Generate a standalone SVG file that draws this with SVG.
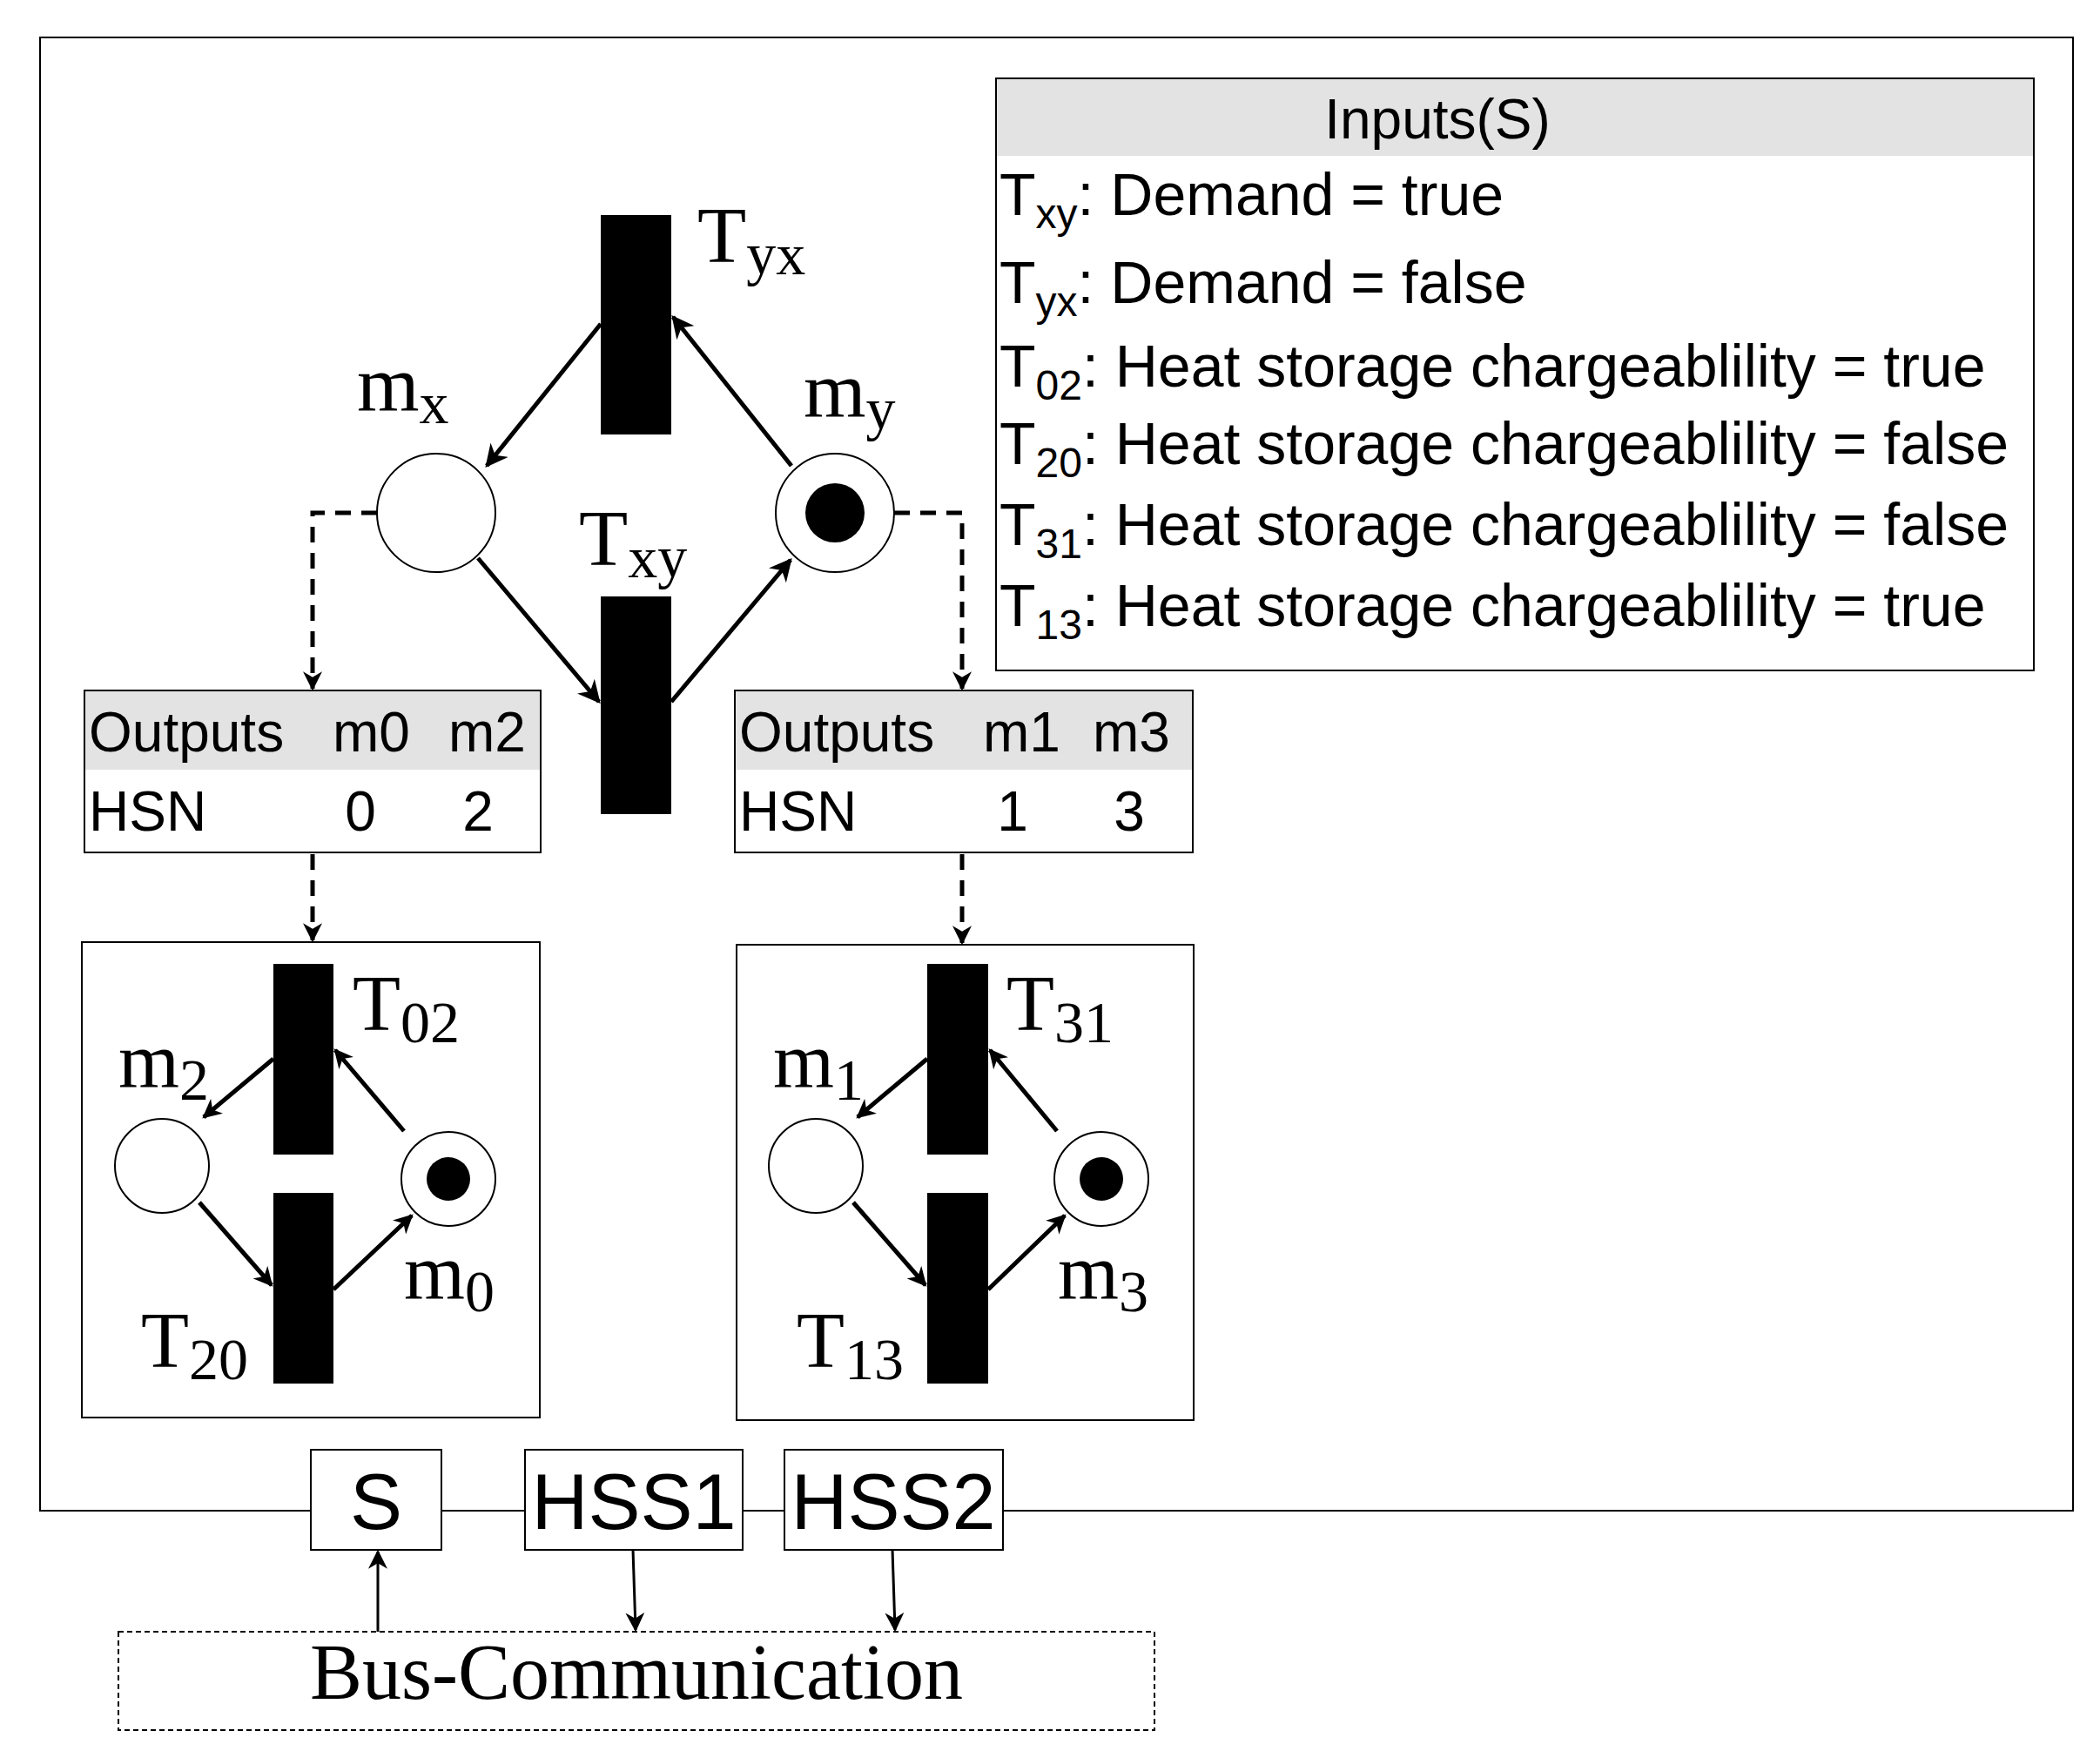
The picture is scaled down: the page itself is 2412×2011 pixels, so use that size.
<svg xmlns="http://www.w3.org/2000/svg" width="2412" height="2011" viewBox="0 0 2412 2011">
<defs>
<marker id="ahb" viewBox="0 0 10 10" refX="9" refY="5" markerWidth="26" markerHeight="26" orient="auto" markerUnits="userSpaceOnUse"><path d="M0,0 L10,5 L0,10 L3,5 Z" fill="#000"/></marker>
<marker id="ahs" viewBox="0 0 10 10" refX="9" refY="5" markerWidth="22" markerHeight="22" orient="auto" markerUnits="userSpaceOnUse"><path d="M0,0 L10,5 L0,10 L3,5 Z" fill="#000"/></marker>
</defs>
<style>
.sans{font-family:"Liberation Sans",Arial,sans-serif;fill:#000}
.serif{font-family:"Liberation Serif","Times New Roman",serif;fill:#000}
.box{fill:#fff;stroke:#000;stroke-width:2}
.bar{fill:#000}
.pl{fill:#fff;stroke:#000;stroke-width:2}
.arr{stroke:#000;stroke-width:5;fill:none;marker-end:url(#ahb)}
.arrs{stroke:#000;stroke-width:5;fill:none;marker-end:url(#ahs)}
.dash{stroke:#000;stroke-width:5;fill:none;stroke-dasharray:18,12;marker-end:url(#ahs)}
.thin{stroke:#000;stroke-width:3;fill:none;marker-end:url(#ahs)}
</style>
<rect width="2412" height="2011" fill="#fff"/>
<g id="frame"><rect x="46" y="43" width="2335" height="1692" fill="none" stroke="#000" stroke-width="2"/></g>

<g id="inputs">
<rect x="1144" y="90" width="1192" height="680" class="box"/>
<rect x="1145" y="91" width="1190" height="88" fill="#e3e3e3"/>
<text x="1651" y="159" class="sans" font-size="64" text-anchor="middle">Inputs(S)</text>
<g class="sans" font-size="68">
<text x="1148" y="247">T<tspan font-size="48" dy="15">xy</tspan><tspan dy="-15">: Demand = true</tspan></text>
<text x="1148" y="348">T<tspan font-size="48" dy="15">yx</tspan><tspan dy="-15">: Demand = false</tspan></text>
<text x="1148" y="444">T<tspan font-size="48" dy="15">02</tspan><tspan dy="-15">: Heat storage chargeablility = true</tspan></text>
<text x="1148" y="533">T<tspan font-size="48" dy="15">20</tspan><tspan dy="-15">: Heat storage chargeablility = false</tspan></text>
<text x="1148" y="626">T<tspan font-size="48" dy="15">31</tspan><tspan dy="-15">: Heat storage chargeablility = false</tspan></text>
<text x="1148" y="719">T<tspan font-size="48" dy="15">13</tspan><tspan dy="-15">: Heat storage chargeablility = true</tspan></text>
</g>
</g>

<g id="main-net">
<rect id="Tyx" x="690" y="247" width="81" height="252" class="bar"/>
<rect id="Txy" x="690" y="685" width="81" height="250" class="bar"/>
<circle id="mx" cx="501" cy="589" r="68" class="pl"/>
<circle id="my" cx="959" cy="589" r="68" class="pl"/>
<circle cx="959" cy="589" r="34" fill="#000"/>
<text x="801" y="301" class="serif" font-size="92">T<tspan font-size="68" dy="14">yx</tspan></text>
<text x="410" y="472" class="serif" font-size="92">m<tspan font-size="68" dy="14">x</tspan></text>
<text x="923" y="479" class="serif" font-size="92">m<tspan font-size="68" dy="14">y</tspan></text>
<text x="665" y="649" class="serif" font-size="92">T<tspan font-size="68" dy="14">xy</tspan></text>
</g>

<g id="outputs-left">
<rect x="97" y="793" width="524" height="186" class="box"/>
<rect x="98" y="794" width="522" height="90" fill="#e3e3e3"/>
<g class="sans" font-size="64">
<text x="102" y="863">Outputs</text><text x="382" y="863">m0</text><text x="515" y="863">m2</text>
<text x="102" y="954">HSN</text><text x="414" y="954" text-anchor="middle">0</text><text x="549" y="954" text-anchor="middle">2</text>
</g>
</g>
<g id="outputs-right">
<rect x="844" y="793" width="526" height="186" class="box"/>
<rect x="845" y="794" width="524" height="90" fill="#e3e3e3"/>
<g class="sans" font-size="64">
<text x="849" y="863">Outputs</text><text x="1129" y="863">m1</text><text x="1255" y="863">m3</text>
<text x="849" y="954">HSN</text><text x="1163" y="954" text-anchor="middle">1</text><text x="1297" y="954" text-anchor="middle">3</text>
</g>
</g>

<g id="sub-left">
<rect x="94" y="1082" width="526" height="546" class="box"/>
<rect x="314" y="1107" width="69" height="219" class="bar"/>
<rect x="314" y="1370" width="69" height="219" class="bar"/>
<circle cx="186" cy="1339" r="54" class="pl"/>
<circle cx="515" cy="1354" r="54" class="pl"/>
<circle cx="515" cy="1354" r="25" fill="#000"/>
<text x="405" y="1183" class="serif" font-size="90">T<tspan font-size="68" dy="14">02</tspan></text>
<text x="136" y="1249" class="serif" font-size="90">m<tspan font-size="68" dy="14">2</tspan></text>
<text x="464" y="1492" class="serif" font-size="90">m<tspan font-size="68" dy="14">0</tspan></text>
<text x="162" y="1570" class="serif" font-size="90">T<tspan font-size="68" dy="14">20</tspan></text>
</g>
<g id="sub-right">
<rect x="846" y="1085" width="525" height="546" class="box"/>
<rect x="1065" y="1107" width="70" height="219" class="bar"/>
<rect x="1065" y="1370" width="70" height="219" class="bar"/>
<circle cx="937" cy="1339" r="54" class="pl"/>
<circle cx="1265" cy="1354" r="54" class="pl"/>
<circle cx="1265" cy="1354" r="25" fill="#000"/>
<text x="1156" y="1183" class="serif" font-size="90">T<tspan font-size="68" dy="14">31</tspan></text>
<text x="888" y="1249" class="serif" font-size="90">m<tspan font-size="68" dy="14">1</tspan></text>
<text x="1215" y="1492" class="serif" font-size="90">m<tspan font-size="68" dy="14">3</tspan></text>
<text x="915" y="1570" class="serif" font-size="90">T<tspan font-size="68" dy="14">13</tspan></text>
</g>

<g id="bus-nodes">
<rect x="357" y="1665" width="150" height="115" class="box"/>
<text x="432" y="1756" class="sans" font-size="90" text-anchor="middle">S</text>
<rect x="603" y="1665" width="250" height="115" class="box"/>
<text x="728" y="1756" class="sans" font-size="90" text-anchor="middle">HSS1</text>
<rect x="901" y="1665" width="251" height="115" class="box"/>
<text x="1026" y="1756" class="sans" font-size="90" text-anchor="middle">HSS2</text>
<rect x="136" y="1874" width="1190" height="113" fill="#fff" stroke="#000" stroke-width="2" stroke-dasharray="6,4"/>
<text x="731" y="1951" class="serif" font-size="90" text-anchor="middle">Bus-Communication</text>
</g>

<g id="connectors">
<line x1="46" y1="1735" x2="357" y2="1735" stroke="#000" stroke-width="2"/>
<line x1="507" y1="1735" x2="603" y2="1735" stroke="#000" stroke-width="2"/>
<line x1="853" y1="1735" x2="901" y2="1735" stroke="#000" stroke-width="2"/>
<line x1="1152" y1="1735" x2="2381" y2="1735" stroke="#000" stroke-width="2"/>
<line x1="690" y1="372" x2="559" y2="535" class="arr"/>
<line x1="909" y1="535" x2="773" y2="364" class="arr"/>
<line x1="549" y1="641" x2="688" y2="806" class="arr"/>
<line x1="771" y1="806" x2="908" y2="643" class="arr"/>
<line x1="314" y1="1216" x2="234" y2="1283" class="arrs"/>
<line x1="464" y1="1299" x2="385" y2="1206" class="arrs"/>
<line x1="229" y1="1381" x2="312" y2="1476" class="arrs"/>
<line x1="383" y1="1481" x2="473" y2="1396" class="arrs"/>
<line x1="1065" y1="1216" x2="985" y2="1283" class="arrs"/>
<line x1="1214" y1="1299" x2="1137" y2="1206" class="arrs"/>
<line x1="980" y1="1381" x2="1063" y2="1476" class="arrs"/>
<line x1="1135" y1="1481" x2="1223" y2="1396" class="arrs"/>
<polyline points="433,589 359,589 359,791" class="dash"/>
<polyline points="1027,589 1105,589 1105,791" class="dash"/>
<line x1="359" y1="981" x2="359" y2="1080" class="dash"/>
<line x1="1105" y1="981" x2="1105" y2="1083" class="dash"/>
<line x1="434" y1="1874" x2="434" y2="1782" class="thin"/>
<line x1="727" y1="1780" x2="730" y2="1872" class="thin"/>
<line x1="1025" y1="1780" x2="1028" y2="1872" class="thin"/>
</g>
</svg>
